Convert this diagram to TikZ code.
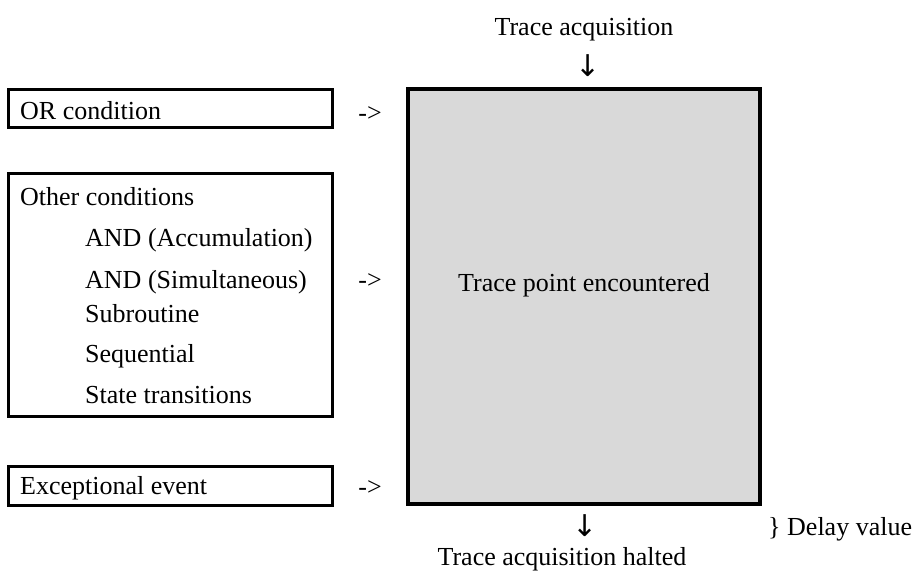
\documentclass[tikz,border=0pt]{standalone}
\usepackage{fontspec}
\setmainfont{Liberation Serif}
\newfontfamily\arrowfont{DejaVu Sans}
\usepackage{tikz}

\begin{document}
\begin{tikzpicture}[x=1pt, y=-1pt,
    font=\fontsize{26pt}{31pt}\selectfont,
    condbox/.style={draw, line width=3pt, inner sep=0pt, anchor=north west},
    tracebox/.style={draw, line width=4pt, fill=black!15, inner sep=0pt, anchor=north west},
    txt/.style={inner sep=0pt, anchor=base west},
    downarr/.style={font=\arrowfont\fontsize{30pt}{34pt}\selectfont}]
  \useasboundingbox (0,0) rectangle (923,581);
  % condition boxes on the left
  \node[condbox, minimum width=324, minimum height=38] (orbox) at (7,88) {};
  \node[condbox, minimum width=324, minimum height=243] (otherbox) at (7,172) {};
  \node[condbox, minimum width=324, minimum height=39] (excbox) at (7,465) {};
  \node[txt] (ortxt) at (20,119) {OR condition};
  \node[txt] (othertxt) at (20,205) {Other conditions};
  \node[txt] (andacc) at (85,246) {AND (Accumulation)};
  \node[txt] (andsim) at (85,288) {AND (Simultaneous)};
  \node[txt] (subr) at (85,322) {Subroutine};
  \node[txt] (seq) at (85,362) {Sequential};
  \node[txt] (state) at (85,403) {State transitions};
  \node[txt] (exctxt) at (20,494) {Exceptional event};
  % the trace box
  \node[tracebox, minimum width=352, minimum height=415] (tbox) at (406,87) {};
  \node (tpoint) at (584,285) {Trace point encountered};
  \node (arr1) at (370,114) {->};
  \node (arr2) at (370,281) {->};
  \node (arr3) at (370,488) {->};
  \node (acq) at (584,30) {Trace acquisition};
  \node[downarr] (down1) at (588,66) {↓};
  \node[downarr] (down2) at (585,526) {↓};
  \node[txt] (delay) at (768,535) {\} Delay value};
  \node (halted) at (562,559) {Trace acquisition halted};
\end{tikzpicture}
\end{document}
